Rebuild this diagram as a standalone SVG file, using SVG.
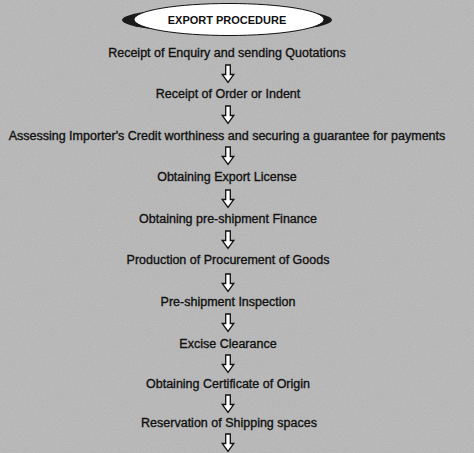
<svg xmlns="http://www.w3.org/2000/svg" width="474" height="453" viewBox="0 0 474 453">
<defs>
<filter id="noise" x="0" y="0" width="100%" height="100%">
<feTurbulence type="fractalNoise" baseFrequency="0.8" numOctaves="2" seed="3"/>
<feColorMatrix type="matrix" values="0 0 0 0 0.3  0 0 0 0 0.3  0 0 0 0 0.3  0 0 0 1.2 -0.45"/>
</filter>
<path id="arr" d="M-2.3,0 L2.3,0 L2.3,9.5 L5.8,9.5 L0,17.5 L-5.8,9.5 L-2.3,9.5 Z"/>
</defs>
<style>
.bg{fill:#bababa}
.t{font-family:"Liberation Sans",Arial,sans-serif;font-size:12.5px;fill:#111;stroke:#111;stroke-width:0.35;text-anchor:middle}
.a{fill:#fff;stroke:#111;stroke-width:1.3;stroke-linejoin:miter}
</style>
<rect class="bg" x="0" y="0" width="474" height="453"/>
<rect x="0" y="0" width="474" height="453" filter="url(#noise)" opacity="0.35"/>
<g id="title">
<ellipse cx="227" cy="20" rx="105" ry="13" fill="#1a1a1a"/>
<ellipse cx="229" cy="19.5" rx="95" ry="16" fill="#fff" stroke="#111" stroke-width="1"/>
<text x="227" y="24" font-family="Liberation Sans,Arial,sans-serif" font-size="11px" font-weight="bold" fill="#111" text-anchor="middle">EXPORT PROCEDURE</text>
</g>
<g id="n1"><text class="t" x="227" y="56.5">Receipt of Enquiry and sending Quotations</text></g>
<g id="n2"><text class="t" x="228" y="97.5">Receipt of Order or Indent</text></g>
<g id="n3"><text class="t" x="227" y="139.5">Assessing Importer's Credit worthiness and securing a guarantee for payments</text></g>
<g id="n4"><text class="t" x="227" y="180.5">Obtaining Export License</text></g>
<g id="n5"><text class="t" x="228" y="222.5">Obtaining pre-shipment Finance</text></g>
<g id="n6"><text class="t" x="228" y="263.5">Production of Procurement of Goods</text></g>
<g id="n7"><text class="t" x="228" y="305.5">Pre-shipment Inspection</text></g>
<g id="n8"><text class="t" x="228" y="347.5">Excise Clearance</text></g>
<g id="n9"><text class="t" x="228" y="387.5">Obtaining Certificate of Origin</text></g>
<g id="n10"><text class="t" x="229" y="426.5">Reservation of Shipping spaces</text></g>
<g id="connectors">
<use href="#arr" class="a" x="228" y="65"/>
<use href="#arr" class="a" x="228" y="106"/>
<use href="#arr" class="a" x="228" y="147"/>
<use href="#arr" class="a" x="228" y="190"/>
<use href="#arr" class="a" x="228" y="231"/>
<use href="#arr" class="a" x="228" y="274"/>
<use href="#arr" class="a" x="228" y="314"/>
<use href="#arr" class="a" x="228" y="355"/>
<use href="#arr" class="a" x="228" y="395"/>
<use href="#arr" class="a" x="228" y="434"/>
</g>
</svg>
